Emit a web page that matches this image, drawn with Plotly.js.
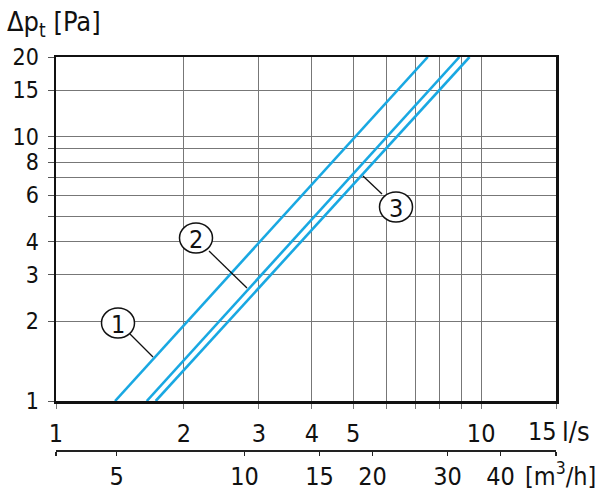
<!DOCTYPE html>
<html>
<head>
<meta charset="utf-8">
<script src="https://cdn.plot.ly/plotly-3.0.1.min.js"></script>
<style>html,body{margin:0;padding:0;background:#fff;}#chart{width:600px;height:497px;}</style>
</head>
<body>
<div id="chart"></div>
<script>
// ---- data ----
const curveNames = ['1', '2', '3'];
const flowEnds = [[1.377, 7.49], [1.635, 8.89], [1.716, 9.39]];   // l/s at Δp = 1 and 20 Pa
const pressureEnds = [1, 20];                                        // Pa

const xTickVals = [1, 2, 3, 4, 5, 6, 7, 8, 9, 10, 15];
const xTickText = ['1', '2', '3', '4', '5', '', '', '', '', '10', ''];
const yTickVals = [1, 2, 3, 4, 5, 6, 7, 8, 9, 10, 15, 20];
const yTickText = ['1', '2', '3', '4', '', '6', '', '8', '', '10', '15', '20'];
const m3hTickVals = [3.6, 5, 10, 15, 20, 30, 40, 54];
const m3hTickText = ['', '5', '10', '15', '20', '30', '40', ''];

// ---- layout helpers ----
const L = 56, R = 556, T = 57, B2 = 450, B = 401;
const W = 600, H = 497;
const px = x => (x - L) / (R - L);
const py = y => (B2 - y) / (B2 - T);
const FONT = '"Liberation Sans Narrow", "DejaVu Sans Condensed", "Liberation Sans", Arial, sans-serif';
const blue = '#19a8e2';
const FS = 25;

const traces = curveNames.map((n, i) => ({
  x: flowEnds[i], y: pressureEnds, type: 'scatter', mode: 'lines',
  line: {color: blue, width: 2.6}, hoverinfo: 'skip', showlegend: false
}));
// invisible trace so the m3/h axis is laid out
traces.push({x: [m3hTickVals[0], m3hTickVals[m3hTickVals.length - 1]], y: [1, 1], xaxis: 'x2', yaxis: 'y',
  type: 'scatter', mode: 'lines', line: {width: 0}, opacity: 0, hoverinfo: 'skip', showlegend: false});

const circles = [
  {cx: 118, cy: 323, lx0: 130, ly0: 334, lx1: 153, ly1: 357},
  {cx: 196, cy: 238, lx0: 209, ly0: 251, lx1: 247, ly1: 288},
  {cx: 396, cy: 207, lx0: 382, ly0: 194, lx1: 363, ly1: 176}
];
const shapes = [];
const annotations = [];
circles.forEach((c, i) => {
  shapes.push({type: 'line', xref: 'paper', yref: 'paper', x0: px(c.lx0), y0: py(c.ly0), x1: px(c.lx1), y1: py(c.ly1),
    line: {color: '#111', width: 1.3}, layer: 'above'});
  shapes.push({type: 'circle', xref: 'paper', yref: 'paper', xsizemode: 'pixel', ysizemode: 'pixel',
    xanchor: px(c.cx), yanchor: py(c.cy), x0: -16.5, x1: 16.5, y0: -15, y1: 15,
    line: {color: '#111', width: 1.5}, fillcolor: 'white', layer: 'above'});
  annotations.push({xref: 'paper', yref: 'paper', x: px(c.cx), y: py(c.cy + 1), text: curveNames[i], showarrow: false,
    xanchor: 'center', yanchor: 'middle', font: {family: FONT, size: FS, color: '#111'}});
});
annotations.push({xref: 'paper', yref: 'paper', x: px(5), y: py(23), xanchor: 'left', yanchor: 'middle',
  text: 'Δp<sub>t</sub> [Pa]', showarrow: false, font: {family: FONT, size: 27, color: '#111'}});
annotations.push({xref: 'x', yref: 'paper', x: Math.log10(15), y: py(431), xanchor: 'right', yanchor: 'middle',
  text: '15', showarrow: false, font: {family: FONT, size: FS, color: '#111'}, xshift: 3});
annotations.push({xref: 'paper', yref: 'paper', x: px(560), y: py(431), xanchor: 'left', yanchor: 'middle',
  text: 'l/s', showarrow: false, font: {family: FONT, size: 27, color: '#111'}});
annotations.push({xref: 'paper', yref: 'paper', x: px(523), y: py(474), xanchor: 'left', yanchor: 'middle',
  text: '[m<sup>3</sup>/h]', showarrow: false, font: {family: FONT, size: FS, color: '#111'}});

const layout = {
  width: W, height: H,
  margin: {l: L, r: W - R, t: T, b: H - B2, pad: 0},
  paper_bgcolor: '#fff', plot_bgcolor: '#fff',
  font: {family: FONT, size: FS, color: '#111'},
  showlegend: false,
  xaxis: {
    type: 'log', range: [0, Math.log10(15)], anchor: 'y',
    tickmode: 'array', tickvals: xTickVals, ticktext: xTickText,
    showgrid: true, gridcolor: '#777', gridwidth: 1,
    ticks: 'outside', ticklen: 5, tickcolor: '#777', tickwidth: 1,
    ticklabelstandoff: 3,
    showline: true, linecolor: '#111', linewidth: 2.5, mirror: true, zeroline: false
  },
  xaxis2: {
    type: 'log', range: [Math.log10(3.6), Math.log10(54)], overlaying: 'x', anchor: 'free', position: 0, side: 'bottom',
    tickmode: 'array', tickvals: m3hTickVals, ticktext: m3hTickText,
    showgrid: false, ticks: 'outside', ticklen: 4, tickcolor: '#222', tickwidth: 1.3,
    ticklabelstandoff: -1,
    showline: true, linecolor: '#222', linewidth: 1.5, zeroline: false
  },
  yaxis: {
    type: 'log', range: [0, Math.log10(20)], domain: [(B2 - B) / (B2 - T), 1],
    tickmode: 'array', tickvals: yTickVals, ticktext: yTickText,
    tickfont: {family: FONT, size: 23, color: '#111'},
    showgrid: true, gridcolor: '#777', gridwidth: 1,
    ticks: 'outside', ticklen: 6, tickcolor: '#555', tickwidth: 1,
    ticklabelstandoff: 4,
    showline: true, linecolor: '#111', linewidth: 2.5, mirror: true, zeroline: false
  },
  shapes: shapes,
  annotations: annotations
};

Plotly.newPlot('chart', traces, layout, {displayModeBar: false, staticPlot: true});
</script>
</body>
</html>
